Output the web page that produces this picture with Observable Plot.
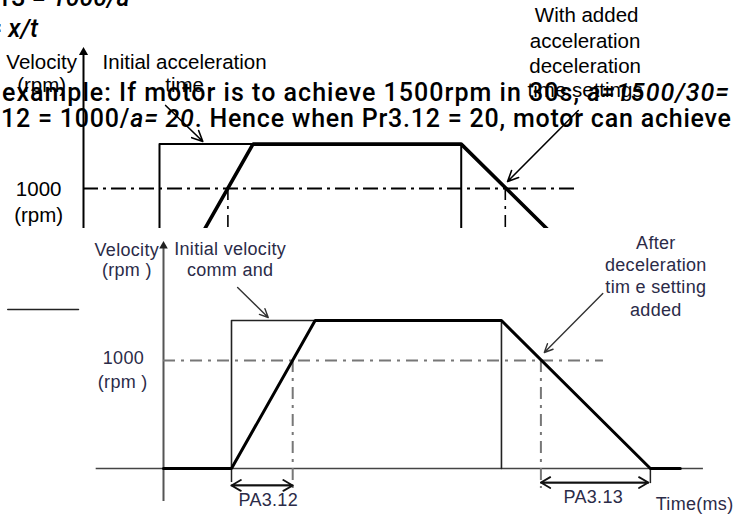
<!DOCTYPE html>
<html><head><meta charset="utf-8">
<script src="https://cdn.jsdelivr.net/npm/d3@7"></script>
<script src="https://cdn.jsdelivr.net/npm/@observablehq/plot@0.6"></script>
<style>
body{margin:0;background:#fff}
#wrap{position:relative;width:734px;height:515px;overflow:hidden;background:#fff}
#wrap > svg{position:absolute;left:0}
</style></head><body><div id="wrap"></div>
<script>
// ---- shared speed profile (time in ms, speed in rpm) ----
const commandTimes  = [100, 100, 497, 497];
const commandSpeeds = [0, 1370, 1370, 0];
const responseTimes  = [0, 100, 223, 497, 716, 760];
const responseSpeeds = [0, 0, 1370, 1370, 0, 0];
const refSpeed = 1000;
const refLineTimes = [0, 647];
const crossTimes = [190, 555];

// ---- upper (older) diagram annotations ----
const topAxisTip = 2175;
const topLabels = ["Velocity", "(rpm)", "Initial acceleration", "time", "1000", "(rpm)",
                   "With added", "acceleration", "deceleration", "time settings"];
const topLabelT = [-55, -55, 133, 133, -59, -59, 662, 660, 660, 660];
const topLabelV = [2050, 1858, 2050, 1858, 992, 775, 2442, 2225, 2017, 1817];
const topArrowT1 = [108, 651], topArrowV1 = [1692, 1650];
const topArrowT2 = [157, 558], topArrowV2 = [1392, 1058];

// ---- lower diagram annotations ----
const botAxisTip = 2100;
const botAxisBottom = -306;
const timeAxis = [-99, 794];
const botLabels = ["Velocity", "(rpm )", "Initial velocity", "comm and", "1000", "(rpm )",
                   "After", "deceleration", "tim e setting", "added", "PA3.12", "PA3.13", "Time(ms)"];
const botLabelT = [-54, -54, 98, 98, -59, -60, 724, 724, 724, 724, 154, 632, 781];
const botLabelV = [2018, 1833, 2028, 1833, 1018, 796, 2083, 1880, 1676, 1463, -296, -269, -333];
const botArrowT1 = [109, 646], botArrowV1 = [1676, 1620];
const botArrowT2 = [154, 560], botArrowV2 = [1398, 1074];
const spanStart = [100, 555], spanEnd = [190, 713], spanV = [-157, -130];
const tickT = [100, 716], tickV = [-130, -140];
const crossBottom = -185;
const strayT = [-229, -125], strayV = 1472;

// ---- document text fragments (segment, italic) ----
const docLine1 = [["13 = ", false], ["1000/a", true]];
const docLine2 = [["= ", false], ["x/t", true]];
const docLine3 = [["example: If motor is to achieve 1500rpm in 30s, ", false], ["a=1500/30=", true]];
const docLine4 = [["12 = 1000/", false], ["a= 20", true], [". Hence when Pr3.12 = 20, motor can achieve", false]];

// ---- tables ----
const commandPath = commandTimes.map((t, i) => ({t, v: commandSpeeds[i]}));
const responsePath = responseTimes.map((t, i) => ({t, v: responseSpeeds[i]}));
const topLabelData = topLabels.map((text, i) => ({text, t: topLabelT[i], v: topLabelV[i]}));
const topArrows = topArrowT1.map((t, i) => ({t1: t, v1: topArrowV1[i], t2: topArrowT2[i], v2: topArrowV2[i]}));
const botLabelData = botLabels.map((text, i) => ({text, t: botLabelT[i], v: botLabelV[i]}));
const botArrows = botArrowT1.map((t, i) => ({t1: t, v1: botArrowV1[i], t2: botArrowT2[i], v2: botArrowV2[i]}));
const spans = spanStart.map((s, i) => ({s, e: spanEnd[i], v: spanV[i]}));
const ticks = tickT.map((t, i) => ({t, v: tickV[i]}));

const wrap = document.getElementById("wrap");

// ---- upper diagram ----
const topPlot = Plot.plot({
  width: 734, height: 228, margin: 0,
  x: {type: "linear", domain: [0, 100], range: [83, 159], axis: null},
  y: {type: "linear", domain: [0, refSpeed], range: [308, 188], axis: null},
  style: {background: "transparent", overflow: "hidden", fontFamily: "Liberation Sans, Arial, sans-serif"},
  marks: [
    Plot.ruleX([0], {y1: botAxisBottom, y2: topAxisTip - 30, stroke: "black", strokeWidth: 2}),
    Plot.dot([{t: 0, v: topAxisTip - 40}], {x: "t", y: "v", symbol: "triangle", r: 3.4, fill: "black", stroke: "none"}),
    Plot.ruleY([refSpeed], {x1: refLineTimes[0], x2: refLineTimes[1], stroke: "black", strokeWidth: 1.8, strokeDasharray: "15,5,3,5"}),
    Plot.ruleX(crossTimes, {y1: refSpeed, y2: crossBottom, stroke: "black", strokeWidth: 1.6, strokeDasharray: "12,6,3,6"}),
    Plot.line(commandPath, {x: "t", y: "v", stroke: "black", strokeWidth: 2}),
    Plot.line(responsePath, {x: "t", y: "v", stroke: "black", strokeWidth: 3.6, strokeLinejoin: "miter"}),
    Plot.arrow(topArrows, {x1: "t1", y1: "v1", x2: "t2", y2: "v2", stroke: "black", strokeWidth: 1.6, headLength: 11, headAngle: 50}),
    Plot.text(topLabelData, {x: "t", y: "v", text: "text", fontSize: 20.5, fill: "black", textAnchor: "middle", lineAnchor: "middle"})
  ]
});
topPlot.style.top = "0px";
wrap.appendChild(topPlot);

// ---- document text overlay ----
const doc = d3.create("svg").attr("width", 734).attr("height", 228)
  .style("top", "0px")
  .attr("font-family", "Roboto, sans-serif").attr("font-size", 25).attr("font-weight", 500);
function addLine(parts, x, y, len) {
  const t = doc.append("text").attr("x", x).attr("y", y).attr("fill", "black");
  if (len) t.attr("textLength", len).attr("lengthAdjust", "spacing");
  parts.forEach(([s, it]) => t.append("tspan").text(s).attr("font-style", it ? "italic" : "normal"));
}
addLine(docLine1, -3, 6);
addLine(docLine2, -12, 37);
addLine(docLine3, 2, 101, 727);
addLine(docLine4, 1, 127, 730);
wrap.appendChild(doc.node());

// ---- lower diagram ----
const botPlot = Plot.plot({
  width: 734, height: 287, margin: 0,
  x: {type: "linear", domain: [0, 100], range: [163, 231], axis: null},
  y: {type: "linear", domain: [0, refSpeed], range: [240, 132], axis: null},
  style: {background: "white", overflow: "hidden", fontFamily: "Liberation Sans, Arial, sans-serif"},
  marks: [
    Plot.line(strayT.map(t => ({t, v: strayV})), {x: "t", y: "v", stroke: "#222", strokeWidth: 1.5}),
    Plot.ruleY([0], {x1: timeAxis[0], x2: timeAxis[1], stroke: "#444", strokeWidth: 1.6}),
    Plot.ruleX([0], {y1: botAxisBottom, y2: botAxisTip - 30, stroke: "#555", strokeWidth: 2}),
    Plot.dot([{t: 0, v: botAxisTip - 40}], {x: "t", y: "v", symbol: "triangle", r: 3.2, fill: "#222", stroke: "none"}),
    Plot.ruleY([refSpeed], {x1: refLineTimes[0], x2: refLineTimes[1], stroke: "#777", strokeWidth: 2, strokeDasharray: "12,6,3,6"}),
    Plot.ruleX(crossTimes, {y1: refSpeed, y2: crossBottom, stroke: "#777", strokeWidth: 2, strokeDasharray: "12,6,3,6"}),
    Plot.ruleX(ticks, {x: "t", y1: 0, y2: "v", stroke: "#222", strokeWidth: 1.5}),
    Plot.line(commandPath, {x: "t", y: "v", stroke: "#222", strokeWidth: 1.6}),
    Plot.line(responsePath, {x: "t", y: "v", stroke: "black", strokeWidth: 3, strokeLinejoin: "miter"}),
    Plot.arrow(botArrows, {x1: "t1", y1: "v1", x2: "t2", y2: "v2", stroke: "#333", strokeWidth: 1.4, headLength: 10, headAngle: 50}),
    Plot.arrow(spans, {x1: "s", x2: "e", y1: "v", y2: "v", stroke: "#111", strokeWidth: 1.8, headLength: 9, headAngle: 60}),
    Plot.arrow(spans, {x1: "e", x2: "s", y1: "v", y2: "v", stroke: "#111", strokeWidth: 1.8, headLength: 9, headAngle: 60}),
    Plot.text(botLabelData, {x: "t", y: "v", text: "text", fontSize: 18, fill: "#2b2b48", textAnchor: "middle", lineAnchor: "middle"})
  ]
});
botPlot.style.top = "228px";
d3.select(botPlot).selectAll("text").style("letter-spacing", "0.3px");
wrap.appendChild(botPlot);
</script></body></html>
